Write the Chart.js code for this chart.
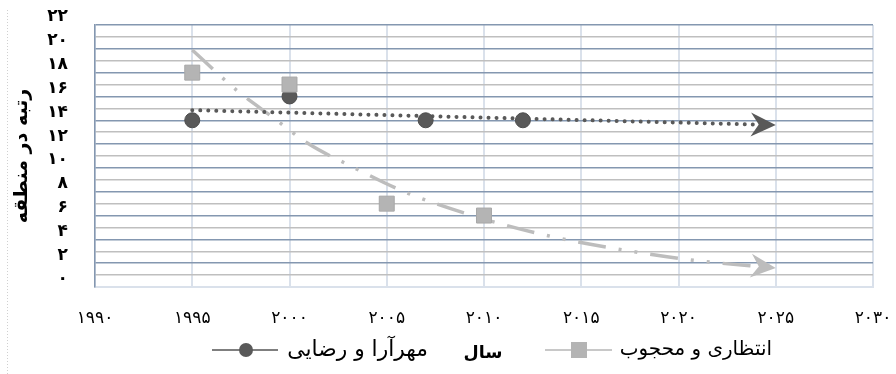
<!DOCTYPE html>
<html>
<head>
<meta charset="utf-8">
<script src="https://cdn.jsdelivr.net/npm/chart.js@4.4.1/dist/chart.umd.min.js"></script>
<style>
  html, body { margin: 0; padding: 0; background: #fff; }
  #wrap { width: 896px; height: 374px; }
</style>
</head>
<body>
<div id="wrap"><canvas id="chart" width="896" height="374"></canvas></div>
<script>
// series: مهرآرا و رضایی (circles)
const yearsA = [1995, 2000, 2007, 2012];
const rankA = [14, 16, 14, 14];
// series: انتظاری و محجوب (squares)
const yearsB = [1995, 2000, 2005, 2010];
const rankB = [18, 17, 7, 6];
// trend lines
const trendAX = [1995, 2025];
const trendAY = [14.85, 13.6];
const trendBX = [1995, 1997.3, 1999.1, 2001, 2003.1, 2005.9, 2009.6, 2013.3, 2017.2, 2021, 2025];
const trendBY = [19.9, 16.5, 14.3, 12.0, 10.2, 8.0, 5.9, 4.3, 3.1, 2.2, 1.6];

const labelA = 'مهرآرا و رضایی';
const labelB = 'انتظاری و محجوب';
const xTitle = 'سال';
const yTitle = 'رتبه در منطقه';

const FONT = "'DejaVu Sans', sans-serif";
const DARK = '#595959';
const LIGHT = '#b4b4b4';

function toFa(n) {
  return String(n).replace(/\d/g, d => '۰۱۲۳۴۵۶۷۸۹'[d]);
}
function pts(xs, ys) { return xs.map((x, i) => ({ x: x, y: ys[i] })); }

// arrow heads at the end of trend lines, placed from the scale pixels
const arrowPlugin = {
  id: 'arrows',
  afterDatasetsDraw(chart) {
    const ctx = chart.ctx;
    chart.data.datasets.forEach((ds, i) => {
      if (!ds.arrowColor) return;
      const el = chart.getDatasetMeta(i).data;
      const a = el[el.length - 2], b = el[el.length - 1];
      const ang = Math.atan2(b.y - a.y, b.x - a.x);
      const L = 25, W = 12, N = 8;
      ctx.save();
      ctx.translate(b.x, b.y);
      ctx.rotate(ang);
      ctx.fillStyle = ds.arrowColor;
      ctx.beginPath();
      ctx.moveTo(0, 0);
      ctx.lineTo(-L, -W);
      ctx.lineTo(-L + N, 0);
      ctx.lineTo(-L, W);
      ctx.closePath();
      ctx.fill();
      ctx.restore();
    });
  }
};

// fit text into a given width by picking the font size
function fitFont(ctx, text, width, weight) {
  let size = 14;
  ctx.font = weight + ' ' + size + 'px ' + FONT;
  size = size * width / ctx.measureText(text).width;
  ctx.font = weight + ' ' + size.toFixed(1) + 'px ' + FONT;
}

// legend row with the x axis title between the two items
const legendPlugin = {
  id: 'legendRow',
  afterDraw(chart) {
    const ctx = chart.ctx;
    const y = 350;
    ctx.save();
    // left dotted frame edge
    ctx.strokeStyle = '#d0d0d0';
    ctx.lineWidth = 1;
    ctx.setLineDash([1, 2]);
    ctx.beginPath(); ctx.moveTo(7.5, 10); ctx.lineTo(7.5, 374); ctx.stroke();
    ctx.setLineDash([]);

    ctx.fillStyle = '#000';
    ctx.textBaseline = 'middle';
    ctx.textAlign = 'right';
    fitFont(ctx, labelA, 141, 'normal');
    ctx.fillText(labelA, 428, y);
    fitFont(ctx, labelB, 152, 'normal');
    ctx.fillText(labelB, 772, y);
    fitFont(ctx, xTitle, 39, 'bold');
    ctx.textAlign = 'center';
    ctx.fillText(xTitle, 483, y + 3);

    // circle item
    ctx.strokeStyle = '#7f7f7f';
    ctx.lineWidth = 2;
    ctx.beginPath(); ctx.moveTo(212, y); ctx.lineTo(278, y); ctx.stroke();
    ctx.fillStyle = DARK;
    ctx.beginPath(); ctx.arc(246, y, 7, 0, Math.PI * 2); ctx.fill();
    // square item
    ctx.strokeStyle = '#c8c8c8';
    ctx.beginPath(); ctx.moveTo(545, y); ctx.lineTo(612, y); ctx.stroke();
    ctx.fillStyle = LIGHT;
    ctx.fillRect(571, y - 8, 16, 16);
    ctx.restore();
  }
};

new Chart(document.getElementById('chart').getContext('2d'), {
  type: 'scatter',
  data: {
    datasets: [
      {
        label: labelB, data: pts(yearsB, rankB), order: 0,
        pointStyle: 'rect', pointRadius: 10.6, pointHoverRadius: 10.6,
        backgroundColor: LIGHT, borderColor: '#a8a8a8', borderWidth: 1
      },
      {
        label: labelA, data: pts(yearsA, rankA), order: 1,
        pointStyle: 'circle', pointRadius: 7.5, pointHoverRadius: 7.5,
        backgroundColor: DARK, borderColor: '#4d4d4d', borderWidth: 1
      },
      {
        label: 'trendA', data: pts(trendAX, trendAY), order: 2,
        showLine: true, pointRadius: 0, borderColor: DARK, borderWidth: 4,
        borderDash: [0.01, 8], borderCapStyle: 'round', arrowColor: DARK
      },
      {
        label: 'trendB', data: pts(trendBX, trendBY), order: 3,
        showLine: true, pointRadius: 0, borderColor: '#bdbdbd', borderWidth: 3.5,
        borderDash: [28, 13, 3, 13, 3, 13], cubicInterpolationMode: 'monotone',
        arrowColor: '#bdbdbd'
      }
    ]
  },
  options: {
    responsive: false,
    animation: false,
    layout: { padding: { top: 25, right: 23, left: 0, bottom: 0 } },
    plugins: { legend: { display: false }, tooltip: { enabled: false } },
    scales: {
      x: {
        type: 'linear', min: 1990, max: 2030,
        afterFit(scale) { scale.height = 87; scale.paddingLeft = 0; scale.paddingRight = 0; },
        ticks: { stepSize: 5, padding: 21, color: '#000', font: { family: FONT, size: 17 },
          callback: v => toFa(v) },
        grid: { color: '#dae1eb', lineWidth: 2, drawTicks: false },
        border: { color: '#dae1eb', width: 2 }
      },
      y: {
        min: 0, max: 22,
        afterFit(scale) { scale.width = 95; scale.paddingTop = 0; scale.paddingBottom = 0; },
        ticks: { stepSize: 1, autoSkip: false, padding: 27, labelOffset: -8, color: '#000',
          font: { family: FONT, size: 17, weight: 'bold' },
          callback: v => (v % 2 === 0 ? toFa(v) : '') },
        grid: {
          drawTicks: false, lineWidth: 1.5,
          color: c => c.tick.value === 0 ? '#dae1eb' : (c.tick.value % 2 === 0 ? '#8497b0' : '#bfbfbf')
        },
        border: { color: '#8497b0', width: 1.5 },
        title: { display: true, text: yTitle, color: '#000', padding: { top: 11, bottom: 0 },
          font: { family: FONT, size: 19, weight: 'bold' } }
      }
    }
  },
  plugins: [arrowPlugin, legendPlugin]
});
</script>
</body>
</html>
